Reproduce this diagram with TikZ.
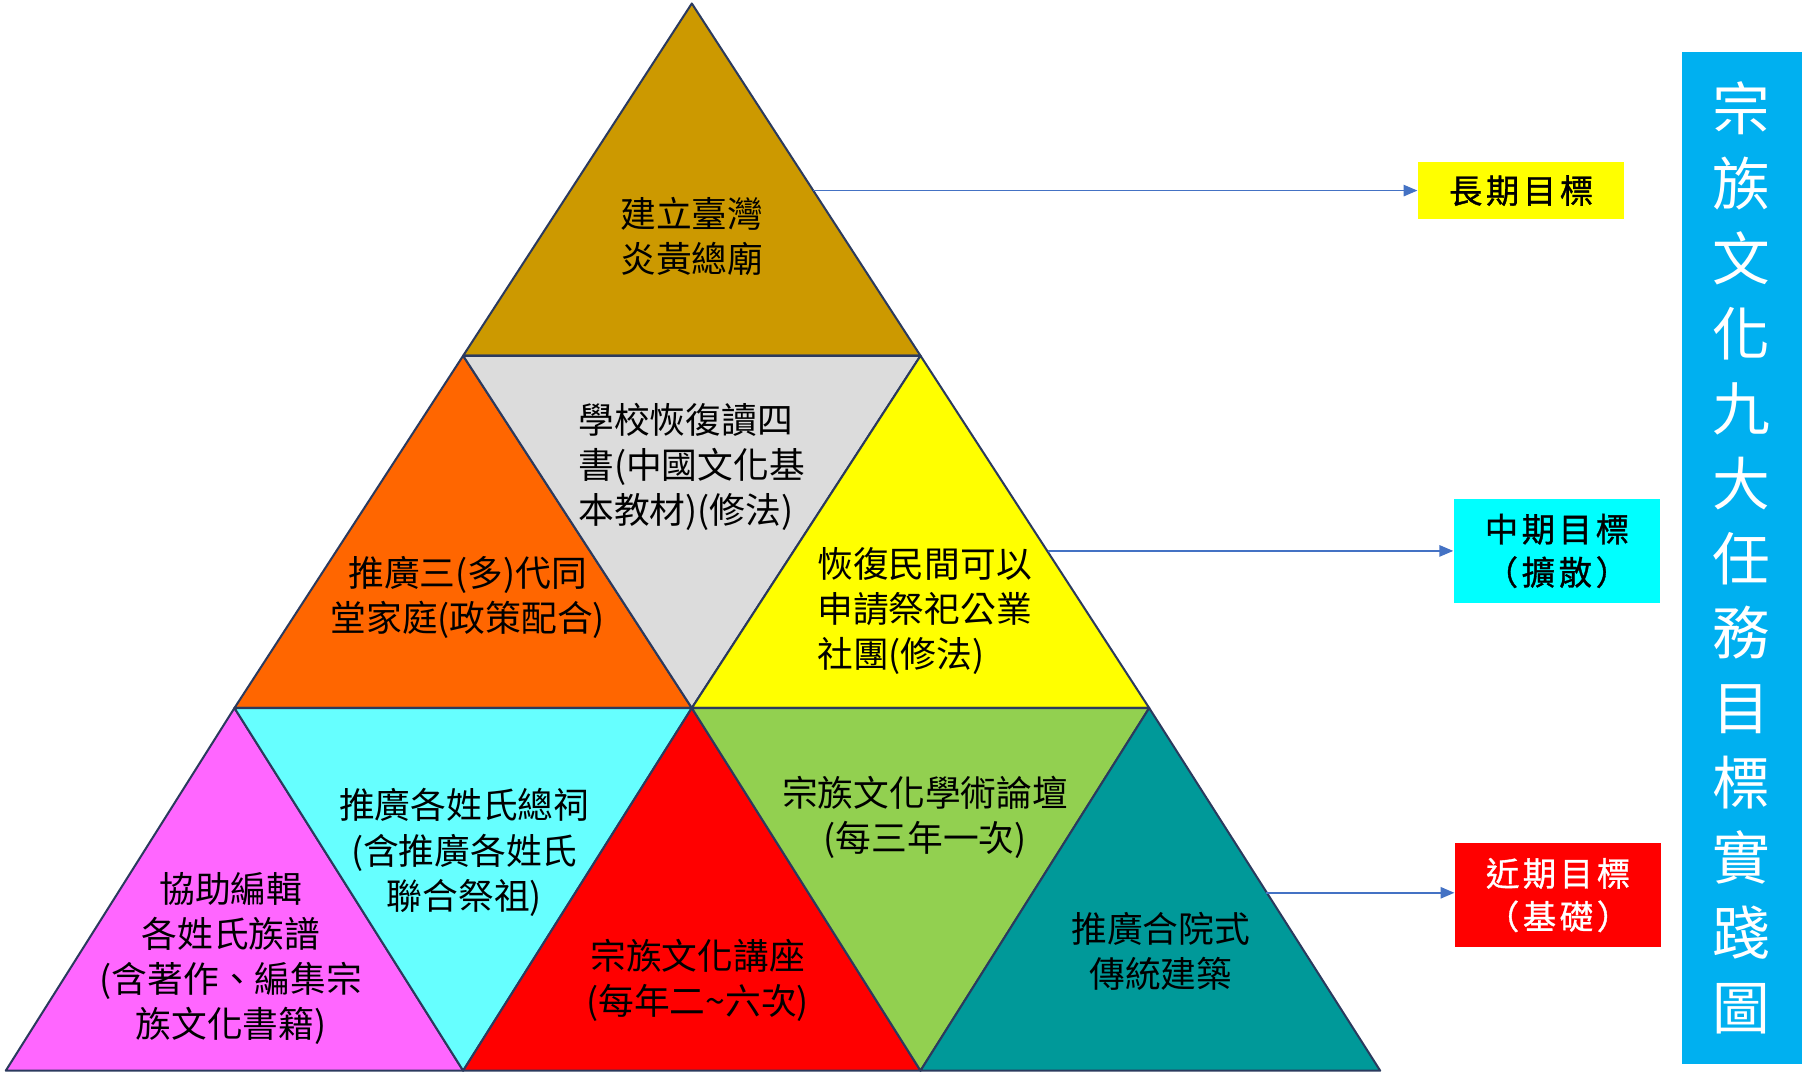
\documentclass[tikz,border=0pt]{standalone}
\usepackage{fontspec}
\usepackage{xcolor}
\newfontfamily\cjk{Noto Sans CJK TC}
\newfontfamily\cjkwide[LetterSpace=11,FakeBold=1]{Noto Sans CJK TC}
\usetikzlibrary{arrows.meta}

\definecolor{trait}{HTML}{2B3A5E}
\definecolor{fleche}{HTML}{4472C4}
\definecolor{ocre}{HTML}{CC9900}
\definecolor{orange}{HTML}{FF6600}
\definecolor{gris}{HTML}{DCDCDC}
\definecolor{jaune}{HTML}{FFFF00}
\definecolor{rose}{HTML}{FF66FF}
\definecolor{ciel}{HTML}{66FFFF}
\definecolor{rouge}{HTML}{FF0000}
\definecolor{vert}{HTML}{92D050}
\definecolor{canard}{HTML}{009999}
\definecolor{cyanlab}{HTML}{00FFFF}
\definecolor{bleutitre}{HTML}{00B0F0}

\begin{document}
\begin{tikzpicture}[x=0.01cm,y=-0.01cm,
  bord/.style={draw=trait,line width=0.5pt,line join=round},
  texte/.style={font=\cjk\fontsize{8.8}{11.1}\selectfont,align=center,inner sep=0pt},
  fleche/.style={draw=fleche,line width=0.4pt,-{Triangle[length=3.4pt,width=2.8pt]}},
  but/.style={minimum width=1.78cm,inner sep=0pt,align=center,
    font=\cjkwide\fontsize{8.2}{10.6}\selectfont}]
\useasboundingbox (0,0) rectangle (1568,945);

%% sommets
\coordinate (s0) at (599,3);
\coordinate (s10) at (401,308);
\coordinate (s11) at (797,308);
\coordinate (s20) at (203,613);
\coordinate (s21) at (599,613);
\coordinate (s22) at (995,613);
\coordinate (s30) at (5,927);
\coordinate (s31) at (401,927);
\coordinate (s32) at (797,927);
\coordinate (s33) at (1195,927);

%% triangles
\filldraw[bord,fill=ocre] (s0) -- (s10) -- (s11) -- cycle;
\filldraw[bord,fill=orange] (s10) -- (s20) -- (s21) -- cycle;
\filldraw[bord,fill=gris] (s10) -- (s11) -- (s21) -- cycle;
\filldraw[bord,fill=jaune] (s11) -- (s21) -- (s22) -- cycle;
\filldraw[bord,fill=rose] (s20) -- (s30) -- (s31) -- cycle;
\filldraw[bord,fill=ciel] (s20) -- (s21) -- (s31) -- cycle;
\filldraw[bord,fill=rouge] (s21) -- (s31) -- (s32) -- cycle;
\filldraw[bord,fill=vert] (s21) -- (s22) -- (s32) -- cycle;
\filldraw[bord,fill=canard] (s22) -- (s32) -- (s33) -- cycle;

%% textes
\node[texte] (zongmiao) at (599,205) {建立臺灣\\炎黃總廟};
\node[texte,align=left,anchor=west] (sishu) at (500,404) {學校恢復讀四\\書(中國文化基\\本教材)(修法)};
\node[texte] (sandai) at (405,517) {推廣三(多)代同\\堂家庭(政策配合)};
\node[texte,align=left,anchor=west] (gongye) at (707,529) {恢復民間可以\\申請祭祀公業\\社團(修法)};
\node[texte] (zongci) at (402,738) {推廣各姓氏總祠\\(含推廣各姓氏\\聯合祭祖)};
\node[texte] (zupu) at (200,830) {協助編輯\\各姓氏族譜\\(含著作、編集宗\\族文化書籍)};
\node[texte] (jiangzuo) at (604,849) {宗族文化講座\\(每年二\textasciitilde 六次)};
\node[texte] (luntan) at (801,708) {宗族文化學術論壇\\(每三年一次)};
\node[texte] (heyuan) at (1005,824) {推廣合院式\\傳統建築};

%% objectifs
\node[but,fill=jaune,minimum height=0.5cm] (long) at (1317,165) {長期目標};
\node[but,fill=cyanlab,minimum height=0.9cm] (mid) at (1348,477) {中期目標\\（擴散）};
\node[but,fill=rouge,text=white,minimum height=0.9cm] (near) at (1349,775) {近期目標\\（基礎）};

%% fleches
\coordinate (g1) at (704,165);
\coordinate (g2) at (907,477);
\coordinate (g3) at (1096,773);
\draw[fleche] (g1) -- (long.west);
\draw[fleche] (g2) -- (mid.west);
\draw[fleche] (g3) -- (g3 -| near.west);

%% titre
\node[fill=bleutitre,minimum width=1.04cm,minimum height=8.76cm,inner sep=0pt,
  text=white,align=center,font=\cjk\fontsize{14.2}{18.45}\selectfont] (titre) at (1508,483)
  {宗\\族\\文\\化\\九\\大\\任\\務\\目\\標\\實\\踐\\圖};

\end{tikzpicture}
\end{document}
